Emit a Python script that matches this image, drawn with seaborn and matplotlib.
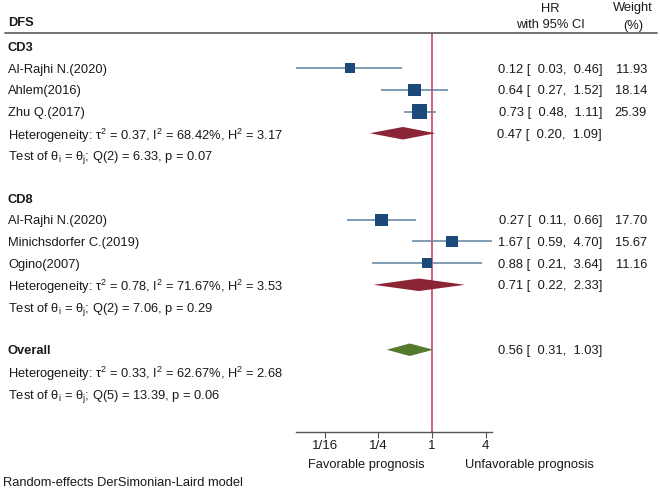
import numpy as np
import pandas as pd
import seaborn as sns
import matplotlib.pyplot as plt
from matplotlib.patches import Polygon
from matplotlib.transforms import blended_transform_factory

# study data
studies = ['Al-Rajhi N.(2020)', 'Ahlem(2016)', 'Zhu Q.(2017)',
           'Al-Rajhi N.(2020)', 'Minichsdorfer C.(2019)', 'Ogino(2007)']
hr = [0.12, 0.64, 0.73, 0.27, 1.67, 0.88]
lo = [0.03, 0.27, 0.48, 0.11, 0.59, 0.21]
hi = [0.46, 1.52, 1.11, 0.66, 4.70, 3.64]
weight = [11.93, 18.14, 25.39, 17.70, 15.67, 11.16]
study_rows = [1, 2, 3, 8, 9, 10]

# pooled estimates (CD3, CD8, overall)
pool_hr = [0.47, 0.71, 0.56]
pool_lo = [0.20, 0.22, 0.31]
pool_hi = [1.09, 2.33, 1.03]
pool_rows = [4, 11, 14]
pool_colors = ['#8b2535', '#8b2535', '#567a2c']

group_labels = ['CD3', 'CD8', 'Overall']
group_rows = [0, 7, 14]
het_text = [
    (4, 'Heterogeneity: τ$^\\mathrm{2}$ = 0.37, I$^\\mathrm{2}$ = 68.42%, H$^\\mathrm{2}$ = 3.17'),
    (5, 'Test of θ$_\\mathrm{i}$ = θ$_\\mathrm{j}$; Q(2) = 6.33, p = 0.07'),
    (11, 'Heterogeneity: τ$^\\mathrm{2}$ = 0.78, I$^\\mathrm{2}$ = 71.67%, H$^\\mathrm{2}$ = 3.53'),
    (12, 'Test of θ$_\\mathrm{i}$ = θ$_\\mathrm{j}$; Q(2) = 7.06, p = 0.29'),
    (15, 'Heterogeneity: τ$^\\mathrm{2}$ = 0.33, I$^\\mathrm{2}$ = 62.67%, H$^\\mathrm{2}$ = 2.68'),
    (16, 'Test of θ$_\\mathrm{i}$ = θ$_\\mathrm{j}$; Q(5) = 13.39, p = 0.06'),
]
xticks = [1/16, 1/4, 1, 4]
xtick_labels = ['1/16', '1/4', '1', '4']

sns.set_style('white')
plt.rcParams['font.family'] = ['Liberation Sans', 'DejaVu Sans']
plt.rcParams['mathtext.fontset'] = 'custom'
plt.rcParams['mathtext.rm'] = 'Liberation Sans'
plt.rcParams['mathtext.it'] = 'Liberation Sans'
fs = 9.3
va = 'center_baseline'

df = pd.DataFrame({'study': studies, 'hr': hr, 'lo': lo, 'hi': hi,
                   'weight': weight, 'row': study_rows})

fig = plt.figure(figsize=(6.6, 4.9), dpi=100)
ax = fig.add_axes([296.4 / 660, 1 - 432 / 490, 195.6 / 660, (432 - 33) / 490])
ax.set_xscale('log', base=2)
ax.set_xlim(0.03, 4.70)
ax.set_ylim(17.8, -0.63)

ax.axvline(1, color='#c8364e', lw=1.1, zorder=1)
ax.hlines(df['row'], df['lo'], df['hi'], color='#5f80a0', lw=1.1, zorder=2)
sns.scatterplot(data=df, x='hr', y='row', size='weight', sizes=(0, 140),
                size_norm=(0, 30), marker='s', color='#1b4a7a',
                edgecolor='none', legend=False, ax=ax, zorder=3)

h = 0.29
for est, l, u, r, c in zip(pool_hr, pool_lo, pool_hi, pool_rows, pool_colors):
    ax.add_patch(Polygon([(l, r), (est, r - h), (u, r), (est, r + h)],
                         closed=True, color=c, lw=0, zorder=3))

for s in ['top', 'left', 'right']:
    ax.spines[s].set_visible(False)
ax.spines['bottom'].set_color('#555555')
ax.spines['bottom'].set_linewidth(1)
ax.set_xticks(xticks)
ax.set_xticklabels(xtick_labels, fontsize=fs + 0.3)
ax.minorticks_off()
ax.tick_params(axis='x', length=4, width=0.8, color='#555555', pad=2,
               bottom=True, labelcolor='#1a1a1a')
ax.set_yticks([])
ax.set_xlabel('')
ax.set_ylabel('')

# text columns
tl = blended_transform_factory(fig.transFigure, ax.transData)
tc = '#1a1a1a'
for lab, r in zip(studies, study_rows):
    ax.text(8 / 660, r, lab, transform=tl, ha='left', va=va, fontsize=fs, color=tc)
for lab, r in zip(group_labels, group_rows):
    ax.text(8 / 660, r, lab, transform=tl, ha='left', va=va, fontsize=fs,
            fontweight='bold', color=tc)
for r, t in het_text:
    ax.text(8 / 660, r, t, transform=tl, ha='left', va=va, fontsize=fs, color=tc)

for e, l, u, r in zip(hr + pool_hr, lo + pool_lo, hi + pool_hi, study_rows + pool_rows):
    ax.text(602 / 660, r, f'{e:.2f} [ {l:5.2f}, {u:5.2f}]', transform=tl,
            ha='right', va=va, fontsize=fs, color=tc)
for w, r in zip(weight, study_rows):
    ax.text(647 / 660, r, f'{w:.2f}', transform=tl, ha='right', va=va,
            fontsize=fs, color=tc)

# headers
fig.text(8 / 660, 1 - 22 / 490, 'DFS', ha='left', va=va, fontsize=fs,
         fontweight='bold', color=tc)
fig.text(550 / 660, 1 - 7 / 490, 'HR', ha='center', va=va, fontsize=fs, color=tc)
fig.text(550 / 660, 1 - 24 / 490, 'with 95% CI', ha='center', va=va, fontsize=fs, color=tc)
fig.text(633 / 660, 1 - 7 / 490, 'Weight', ha='center', va=va, fontsize=fs, color=tc)
fig.text(633 / 660, 1 - 24 / 490, '(%)', ha='center', va=va, fontsize=fs, color=tc)
fig.add_artist(plt.Line2D([5 / 660, 657 / 660], [1 - 33 / 490, 1 - 33 / 490],
                          color='#666666', lw=1.3))

fig.text(366 / 660, 1 - 463 / 490, 'Favorable prognosis', ha='center', va=va,
         fontsize=fs, color=tc)
fig.text(529 / 660, 1 - 463 / 490, 'Unfavorable prognosis', ha='center', va=va,
         fontsize=fs, color=tc)
fig.text(3 / 660, 1 - 481 / 490, 'Random-effects DerSimonian-Laird model', ha='left',
         va=va, fontsize=fs, color=tc)

fig.savefig('out.png', dpi=100, facecolor='white')
